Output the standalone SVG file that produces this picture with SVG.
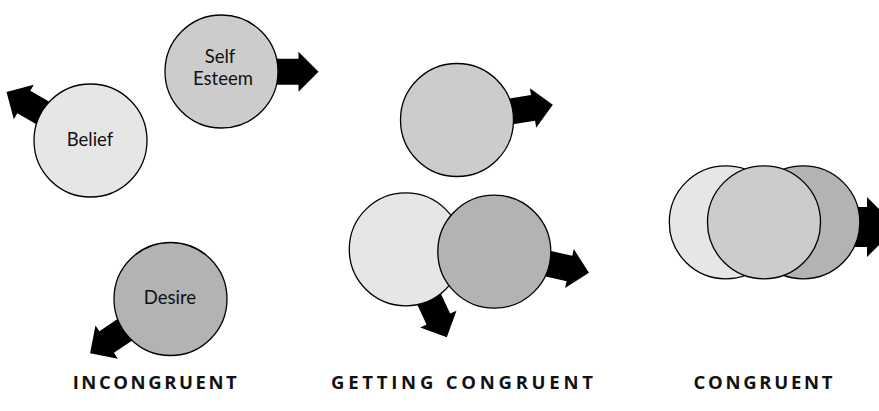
<svg xmlns="http://www.w3.org/2000/svg" width="879" height="411" viewBox="0 0 879 411">
  <style>
    .c { stroke: #000; stroke-width: 1.3; }
    .l1 { fill: #e6e6e6; }
    .l2 { fill: #cccccc; }
    .l3 { fill: #b3b3b3; }
    .arrow { fill: #000; }
    .t { font-family: "Lato", "Open Sans", sans-serif; font-size: 18.5px; fill: #111; text-anchor: middle; }
    .lab { font-family: "Open Sans", "Lato", sans-serif; font-size: 18.5px; font-weight: bold; fill: #111; text-anchor: middle; }
  </style>
  <defs>
    <path id="arr" d="M40,-13 L77,-13 L77,-20 L97,0 L77,20 L77,13 L40,13 Z"/>
  </defs>
  <rect width="879" height="411" fill="#fff"/>

  <g id="connectors">
    <use href="#arr" class="arrow" transform="translate(221.5,71.7)"/>
    <use href="#arr" class="arrow" transform="translate(90.5,140.5) rotate(-150)"/>
    <use href="#arr" class="arrow" transform="translate(170.5,299) rotate(146)"/>
    <use href="#arr" class="arrow" transform="translate(457,120) rotate(-9)"/>
    <use href="#arr" class="arrow" transform="translate(405.8,249.3) rotate(65)"/>
    <use href="#arr" class="arrow" transform="translate(494.3,251.7) rotate(12.6)"/>
    <path class="arrow" d="M835,207 L867,207 L867,197 L897,227 L867,257 L867,247 L835,247 Z"/>
  </g>

  <g id="self-esteem">
    <circle class="c l2" cx="221.5" cy="71.5" r="56.5"/>
    <text class="t" x="220" y="63">Self</text>
    <text class="t" x="223" y="85">Esteem</text>
  </g>
  <g id="belief">
    <circle class="c l1" cx="90.5" cy="140.5" r="56.5"/>
    <text class="t" x="90" y="145.7">Belief</text>
  </g>
  <g id="desire">
    <circle class="c l3" cx="170.5" cy="299" r="56.5"/>
    <text class="t" x="170" y="304">Desire</text>
  </g>

  <g id="g2-top">
    <circle class="c l2" cx="457" cy="120" r="56.5"/>
  </g>
  <g id="g2-left">
    <circle class="c l1" cx="405.8" cy="249.3" r="56.5"/>
  </g>
  <g id="g2-right">
    <circle class="c l3" cx="494.3" cy="251.7" r="56.5"/>
  </g>

  <g id="g3-left">
    <circle class="c l1" cx="725.8" cy="222.3" r="56.5"/>
  </g>
  <g id="g3-right">
    <circle class="c l3" cx="803.3" cy="222.3" r="56.5"/>
  </g>
  <g id="g3-middle">
    <circle class="c l2" cx="764" cy="222.3" r="56.5"/>
  </g>

  <g id="labels">
    <text class="lab" x="154.7" y="389" textLength="164" lengthAdjust="spacing">INCONGRUENT</text>
    <text class="lab" x="462" y="389" textLength="262" lengthAdjust="spacing">GETTING CONGRUENT</text>
    <text class="lab" x="763" y="389" textLength="139" lengthAdjust="spacing">CONGRUENT</text>
  </g>
</svg>
